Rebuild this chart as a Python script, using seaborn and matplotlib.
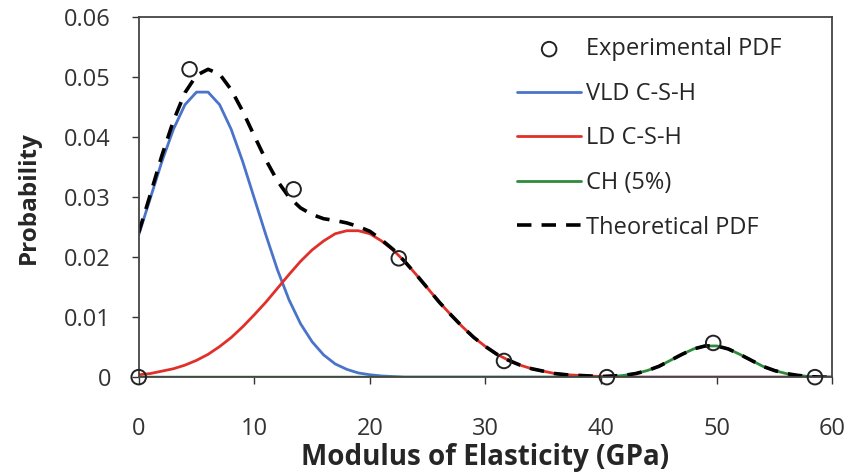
import numpy as np
import pandas as pd
import matplotlib
matplotlib.use("Agg")
import matplotlib.pyplot as plt
from matplotlib.ticker import FuncFormatter
import seaborn as sns

# Modulus grid (GPa) and curve values
modulus = list(range(0, 61))

vld_csh = [0.0237, 0.0298, 0.0359, 0.0413, 0.0454, 0.0475, 0.0475, 0.0454, 0.0413, 0.0359,
           0.0298, 0.0237, 0.0179, 0.0129, 0.0089, 0.0059, 0.0037, 0.0022, 0.0013, 0.0007,
           0.0004, 0.0002, 0.0001] + [0.0] * 38

ld_csh = [0.0004, 0.0006, 0.0010, 0.0014, 0.0020, 0.0028, 0.0038, 0.0051, 0.0066, 0.0084,
          0.0104, 0.0125, 0.0148, 0.0171, 0.0193, 0.0212, 0.0227, 0.0239, 0.0244, 0.0244,
          0.0239, 0.0227, 0.0212, 0.0193, 0.0171, 0.0148, 0.0125, 0.0104, 0.0084, 0.0066,
          0.0051, 0.0038, 0.0028, 0.0020, 0.0014, 0.0010, 0.0006, 0.0004, 0.0003, 0.0002,
          0.0001, 0.0001] + [0.0] * 19

ch = [0.0] * 41 + [0.0001, 0.0003, 0.0006, 0.0011, 0.0018, 0.0028, 0.0038, 0.0047, 0.0052,
                   0.0052, 0.0047, 0.0038, 0.0028, 0.0018, 0.0011, 0.0006, 0.0003, 0.0001, 0.0, 0.0]

exp_modulus = [0.0, 4.4, 13.4, 22.5, 31.6, 40.5, 49.7, 58.5]
exp_pdf = [0.0, 0.0513, 0.0313, 0.0198, 0.0027, 0.0, 0.0057, 0.0]

df = pd.DataFrame({"E": modulus, "vld": vld_csh, "ld": ld_csh, "ch": ch})
df["theo"] = df["vld"] + df["ld"] + df["ch"]

sns.set_theme(style="white")
plt.rcParams["font.family"] = ["Open Sans", "DejaVu Sans"]

fig, ax = plt.subplots(figsize=(8.51, 4.75), dpi=100)
fig.subplots_adjust(left=0.163, right=0.978, top=0.964, bottom=0.206)

sns.lineplot(data=df, x="E", y="vld", color="#4a74c9", lw=2, label="VLD C-S-H", ax=ax)
sns.lineplot(data=df, x="E", y="ld", color="#e0302a", lw=2, label="LD C-S-H", ax=ax)
sns.lineplot(data=df, x="E", y="ch", color="#2e8b3c", lw=2, label="CH (5%)", ax=ax)
sns.lineplot(data=df, x="E", y="theo", color="black", lw=2.6, linestyle=(0, (4, 2.8)),
             label="Theoretical PDF", ax=ax)
sns.scatterplot(x=exp_modulus, y=exp_pdf, marker="o", s=110, facecolor="none",
                edgecolor="#222222", linewidth=1.4, label="Experimental PDF", ax=ax,
                clip_on=False, zorder=5)

ax.set_xlim(0, 60)
ax.set_ylim(0, 0.06)
ax.set_xticks(range(0, 61, 10))
ax.set_yticks(np.arange(0, 0.061, 0.01))
ax.yaxis.set_major_formatter(FuncFormatter(lambda v, p: "0" if abs(v) < 1e-9 else f"{v:.2f}"))
ax.tick_params(axis="both", labelsize=17, colors="#333333", length=5, width=1, direction="out",
               bottom=True, left=True)
ax.tick_params(axis="y", pad=15)
ax.tick_params(axis="x", pad=24)
ax.set_xlabel("Modulus of Elasticity (GPa)", fontsize=20, fontweight="bold", labelpad=1)
ax.set_ylabel("Probability", fontsize=17.5, fontweight="bold", labelpad=17)

for side in ["left", "bottom", "right", "top"]:
    ax.spines[side].set_color("#444444")
    ax.spines[side].set_linewidth(1.3)

# legend in the reference order: markers first, then curves
handles, labels = ax.get_legend_handles_labels()
order = [labels.index(l) for l in ["Experimental PDF", "VLD C-S-H", "LD C-S-H", "CH (5%)", "Theoretical PDF"]]
ax.legend([handles[i] for i in order], [labels[i] for i in order], loc="upper right",
          frameon=False, fontsize=17, handlelength=2.7, handletextpad=0.2, labelspacing=0.87,
          borderaxespad=0, bbox_to_anchor=(0.94, 0.97))

fig.savefig("out.png", dpi=100)
